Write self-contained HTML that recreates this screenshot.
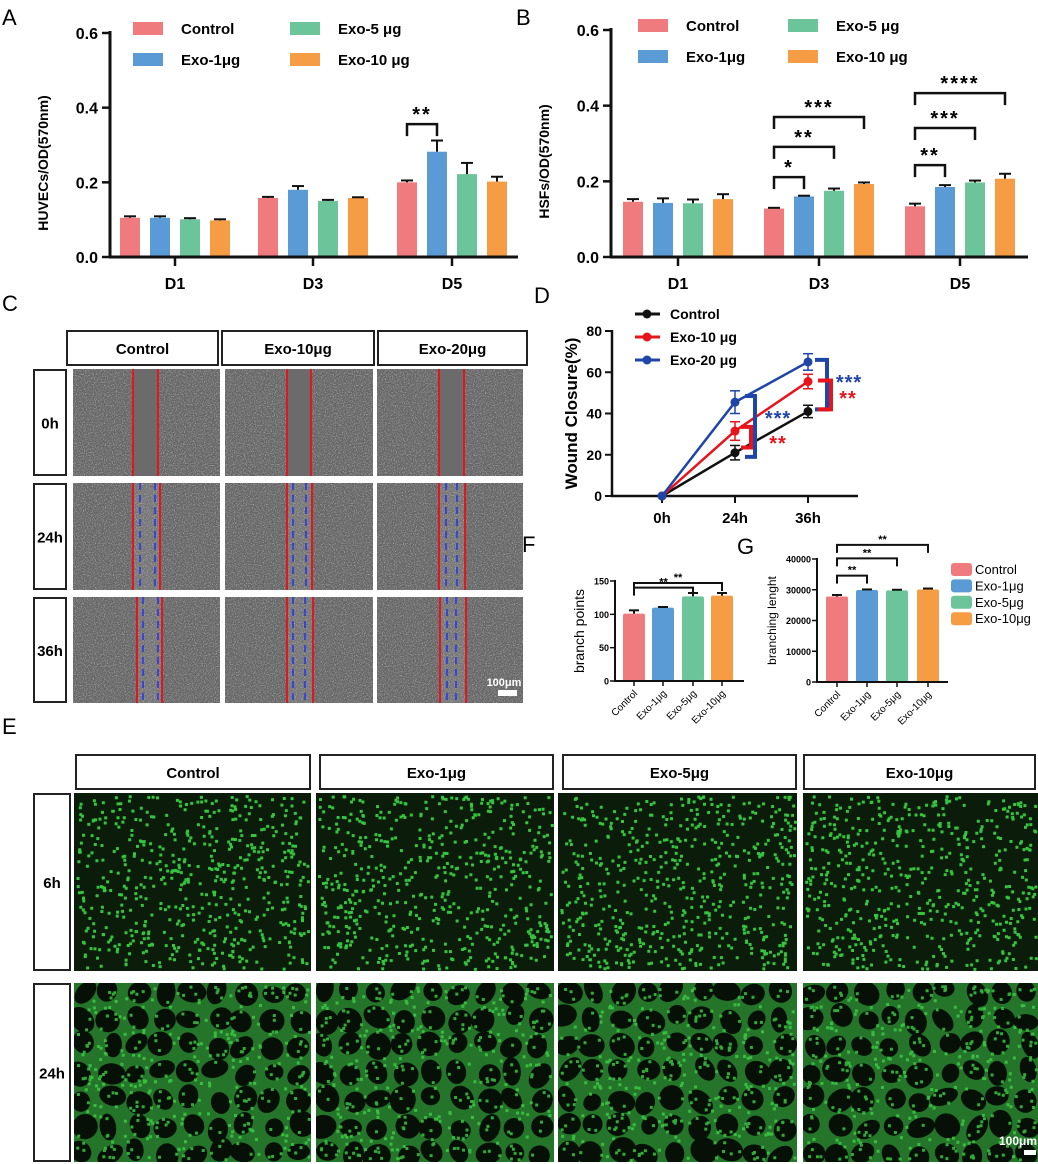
<!DOCTYPE html>
<html><head><meta charset="utf-8"><style>
html,body{margin:0;padding:0;background:#fff;}
svg{display:block;font-family:"Liberation Sans",Arial,sans-serif;}
.b{font-weight:bold;}
.n{font-family:"Liberation Sans Narrow","Liberation Sans",sans-serif;font-weight:bold;}
</style></head><body>
<svg id="fig" width="1038" height="1164" viewBox="0 0 1038 1164" xmlns="http://www.w3.org/2000/svg">
<defs id="defs">
<filter id="noise" x="0" y="0" width="100%" height="100%">
<feTurbulence type="fractalNoise" baseFrequency="0.9" numOctaves="2" seed="3"/>
<feColorMatrix type="matrix" values="0 0 0 0 1  0 0 0 0 1  0 0 0 0 1  0 0 0 2.2 -1.05"/>
</filter>
</defs>
<g id="panelA"></g>
<g id="panelB"></g>
<g id="panelC"></g>
<g id="panelD"></g>
<g id="panelF"></g>
<g id="panelG"></g>
<g id="panelE"></g>
</svg>
<script>
// ---------- data ----------
const abCats = ['D1','D3','D5'];
const groupNames = ['Control','Exo-1μg','Exo-5μg','Exo-10μg'];
const aControl = [0.105,0.158,0.200];
const aExo1 = [0.105,0.180,0.282];
const aExo5 = [0.101,0.150,0.222];
const aExo10 = [0.098,0.158,0.202];
const aErrControl = [0.004,0.003,0.005];
const aErrExo1 = [0.004,0.010,0.030];
const aErrExo5 = [0.003,0.003,0.030];
const aErrExo10 = [0.003,0.002,0.013];
const aTicks = [0.0,0.2,0.4,0.6];
const aSig = [[2,0,1,0.356,'**']];
const bControl = [0.146,0.128,0.134];
const bExo1 = [0.143,0.160,0.185];
const bExo5 = [0.142,0.175,0.197];
const bExo10 = [0.153,0.193,0.207];
const bErrControl = [0.007,0.002,0.007];
const bErrExo1 = [0.012,0.002,0.005];
const bErrExo5 = [0.010,0.006,0.005];
const bErrExo10 = [0.013,0.004,0.013];
const bTicks = [0.0,0.2,0.4,0.6];
const bSig = [[1,0,1,0.211,'*'],[1,0,2,0.291,'**'],[1,0,3,0.370,'***'],[2,0,1,0.243,'**'],[2,0,2,0.341,'***'],[2,0,3,0.433,'****']];
const dCats = ['0h','24h','36h'];
const dControl = [0,21,41];
const dExo10 = [0,31.5,55.5];
const dExo20 = [0,45.5,65];
const dErrControl = [0,3.5,3];
const dErrExo10 = [0,4.5,3.5];
const dErrExo20 = [0,5.5,4];
const dTicks = [0,20,40,60,80];
const fValues = [101,110,127,128];
const fErr = [5,1,5,4];
const fTicks = [0,50,100,150];
const fSig = [[0,2,140,'**'],[0,3,147,'**']];
const gValues = [27800,29900,29800,30100];
const gErr = [500,200,200,300];
const gTicks = [0,10000,20000,30000,40000];
const gSig = [[0,1,34600,'**'],[0,2,40200,'**'],[0,3,44600,'**']];

const COLORS = ['#f07b7e','#5b9bd5','#6cc49a','#f59c45'];
const NS = 'http://www.w3.org/2000/svg';
function mk(parent, tag, attrs, name, text){
  const el = document.createElementNS(NS, tag);
  for (const k in attrs) el.setAttribute(k, attrs[k]);
  
  
  if (text !== undefined) el.textContent = text;
  parent.appendChild(el);
  return el;
}
function line(p,x1,y1,x2,y2,sw,col,name){return mk(p,'line',{x1,y1,x2,y2,stroke:col||'#111','stroke-width':sw||2},name);}

// ---------- grouped bar charts A, B ----------
function groupedChart(gid, letter, lx, ax, y0, y6, xEnd, centers, series, errs, ticks, sig, ylabel, legX, legX2, legY) {
  const g = document.getElementById(gid);
  const ys = v => y0 - v/0.6*(y0-y6);
  mk(g,'text',{x:lx,y:25,'font-size':22},'panel-label',letter);
  centers.forEach((c,i)=>{
    series.forEach((s,j)=>{
      const cx = c + (j-1.5)*30;
      mk(g,'rect',{x:cx-10,y:ys(s[i]),width:20,height:y0-ys(s[i]),fill:COLORS[j]},'bar-'+abCats[i]+'-'+j);
      const ye = ys(s[i]+errs[j][i]);
      line(g,cx,ys(s[i]),cx,ye,2,'#111','error-bar');
      line(g,cx-6,ye,cx+6,ye,2,'#111','error-cap');
    });
    line(g,c,y0,c,y0+9,2.5,'#111','x-tick');
    mk(g,'text',{x:c,y:y0+32,'text-anchor':'middle','font-size':16,class:'b'},'x-tick-label',abCats[i]);
  });
  line(g,ax,y6-2,ax,y0+1,3,'#111','y-axis');
  line(g,ax-1,y0,xEnd,y0,3,'#111','x-axis');
  ticks.forEach(t=>{
    line(g,ax-8,ys(t),ax,ys(t),2.5,'#111','y-tick');
    mk(g,'text',{x:ax-12,y:ys(t)+6,'text-anchor':'end','font-size':16,class:'b'},'y-tick-label',t.toFixed(1));
  });
  mk(g,'text',{x:0,y:0,transform:`translate(${ax-62},${(y0+y6)/2+18}) rotate(-90)`,'text-anchor':'middle','font-size':14,class:'b'},'y-axis-title',ylabel);
  sig.forEach(s=>{
    const x1 = centers[s[0]]+(s[1]-1.5)*30, x2 = centers[s[0]]+(s[2]-1.5)*30, y = ys(s[3]);
    mk(g,'path',{d:`M${x1},${y+12}V${y}H${x2}V${y+12}`,fill:'none',stroke:'#111','stroke-width':2.5},'significance-bracket');
    mk(g,'text',{x:(x1+x2)/2,y:y-3,'text-anchor':'middle','font-size':20,class:'b','letter-spacing':2},'significance-stars',s[4]);
  });
  const legLabels = [['Control','Exo-5 μg'],['Exo-1μg','Exo-10 μg']];
  [[0,2],[1,3]].forEach((pair,r)=>{
    pair.forEach((j,cI)=>{
      const sx = cI? legX2 : legX;
      mk(g,'rect',{x:sx,y:legY+r*31-6,width:30,height:13,fill:COLORS[j]},'legend-swatch');
      mk(g,'text',{x:sx+48,y:legY+r*31+6,'font-size':15,class:'b'},'legend-entry',legLabels[r][cI]);
    });
  });
}
groupedChart('panelA','A',2,110,257,33,518,[175,313,452],[aControl,aExo1,aExo5,aExo10],[aErrControl,aErrExo1,aErrExo5,aErrExo10],aTicks,aSig,'HUVECs/OD(570nm)',133,290,28);
groupedChart('panelB','B',516,611,257,30,1028,[678,819,960],[bControl,bExo1,bExo5,bExo10],[bErrControl,bErrExo1,bErrExo5,bErrExo10],bTicks,bSig,'HSFs/OD(570nm)',638,788,25);

// ---------- panel C (scratch micrographs) ----------
(function(){
  const g = document.getElementById('panelC');
  mk(g,'text',{x:2,y:311,'font-size':22},'panel-label','C');
  const heads = [[67,218,'Control'],[222,374,'Exo-10μg'],[378,527,'Exo-20μg']];
  heads.forEach(h=>{
    mk(g,'rect',{x:h[0],y:331,width:h[1]-h[0],height:34,fill:'#fff',stroke:'#222','stroke-width':2},'column-header-box');
    mk(g,'text',{x:(h[0]+h[1])/2,y:354,'text-anchor':'middle','font-size':15,class:'n'},'column-header',h[2]);
  });
  const rows = [[369,476,'0h'],[483,590,'24h'],[597,703,'36h']];
  const cols = [[73,220],[225,373],[377,523]];
  const red = [[[133,158],[287,311],[439,464]],[[133,160],[287,312],[439,465]],[[137,162],[287,313],[440,466]]];
  const blue = [null,[[140,155],[293,306],[446,457]],[[143,158],[293,305],[447,456]]];
  rows.forEach((r,ri)=>{
    mk(g,'rect',{x:34,y:r[0]+1,width:32,height:r[1]-r[0]-2,fill:'#fff',stroke:'#222','stroke-width':2},'row-label-box');
    mk(g,'text',{x:50,y:(r[0]+r[1])/2+6,'text-anchor':'middle','font-size':15,class:'n'},'row-label',r[2]);
    cols.forEach((c,ci)=>{
      mk(g,'rect',{x:c[0],y:r[0],width:c[1]-c[0],height:r[1]-r[0],fill:'#666'},'micrograph');
      const rr = red[ri][ci];
      mk(g,'rect',{x:rr[0],y:r[0],width:rr[1]-rr[0],height:r[1]-r[0],fill: ri===0?'#666':'#747474'},'wound-gap');
      mk(g,'rect',{x:c[0],y:r[0],width:c[1]-c[0],height:r[1]-r[0],fill:'#fff',filter:'url(#noise)',opacity: 0.6},'cell-texture');
      if(ri===0) mk(g,'rect',{x:rr[0]+1,y:r[0],width:rr[1]-rr[0]-2,height:r[1]-r[0],fill:'#6b6b6b'},'wound-gap-clear');
      line(g,rr[0],r[0],rr[0],r[1],2,'#e8141c','wound-edge-initial');
      line(g,rr[1],r[0],rr[1],r[1],2,'#e8141c','wound-edge-initial');
      if(blue[ri]){
        const bb = blue[ri][ci];
        mk(g,'line',{x1:bb[0],y1:r[0],x2:bb[0],y2:r[1],stroke:'#2233ee','stroke-width':1.5,'stroke-dasharray':'7,5'},'wound-edge-current');
        mk(g,'line',{x1:bb[1],y1:r[0],x2:bb[1],y2:r[1],stroke:'#2233ee','stroke-width':1.5,'stroke-dasharray':'7,5'},'wound-edge-current');
      }
    });
  });
  mk(g,'text',{x:504,y:686,'text-anchor':'middle','font-size':11,fill:'#fff',class:'n'},'scale-bar-label','100μm');
  mk(g,'rect',{x:498,y:690,width:19,height:6,fill:'#fff'},'scale-bar');
})();

// ---------- panel D (line chart) ----------
(function(){
  const g = document.getElementById('panelD');
  const ax=612, y0=496, y80=331;
  const xs = i => [662,735,808][i];
  const ys = v => y0 - v/80*(y0-y80);
  mk(g,'text',{x:534,y:303,'font-size':22},'panel-label','D');
  line(g,ax,y80-1,ax,y0+1,2.5,'#111','y-axis');
  line(g,ax-1,y0,858,y0,2.5,'#111','x-axis');
  dTicks.forEach(t=>{
    line(g,ax-7,ys(t),ax,ys(t),2,'#111','y-tick');
    mk(g,'text',{x:ax-10,y:ys(t)+5,'text-anchor':'end','font-size':14,class:'b'},'y-tick-label',t);
  });
  dCats.forEach((c,i)=>{
    line(g,xs(i),y0,xs(i),y0+7,2,'#111','x-tick');
    mk(g,'text',{x:xs(i),y:y0+27,'text-anchor':'middle','font-size':15,class:'b'},'x-tick-label',c);
  });
  mk(g,'text',{x:0,y:0,transform:`translate(577,${(y0+y80)/2}) rotate(-90)`,'text-anchor':'middle','font-size':17,class:'b'},'y-axis-title','Wound Closure(%)');
  const series = [[dControl,dErrControl,'#111','Control'],[dExo10,dErrExo10,'#e8141c','Exo-10 μg'],[dExo20,dErrExo20,'#1f45a8','Exo-20 μg']];
  series.forEach((s,si)=>{
    const pts = s[0].map((v,i)=>xs(i)+','+ys(v)).join(' ');
    mk(g,'polyline',{points:pts,fill:'none',stroke:s[2],'stroke-width':2.5},'series-line-'+si);
    s[0].forEach((v,i)=>{
      if(s[1][i]>0){
        const t=ys(v+s[1][i]), b=ys(v-s[1][i]);
        line(g,xs(i),t,xs(i),b,1.5,s[2],'error-bar');
        line(g,xs(i)-5,t,xs(i)+5,t,1.5,s[2],'error-cap');
        line(g,xs(i)-5,b,xs(i)+5,b,1.5,s[2],'error-cap');
      }
      mk(g,'circle',{cx:xs(i),cy:ys(v),r:4.5,fill:s[2]},'data-point');
    });
    const ly = 314+si*23;
    line(g,635,ly,660,ly,3,s[2],'legend-line');
    mk(g,'circle',{cx:647,cy:ly,r:4.5,fill:s[2]},'legend-marker');
    mk(g,'text',{x:670,y:ly+5,'font-size':14,class:'b'},'legend-entry',s[3]);
  });
  function br(xb, v1, v2, col, len, name){
    mk(g,'path',{d:`M${xb-len},${ys(v1)}H${xb}V${ys(v2)}H${xb-len}`,fill:'none',stroke:col,'stroke-width':4},name);
  }
  br(755, dExo20[1]+3, dControl[1]-2, '#1f45a8', 10, 'bracket-24h-exo20');
  br(751, dExo10[1]+2, dControl[1]+2.5, '#e8141c', 10, 'bracket-24h-exo10');
  br(827, dExo20[2]+1, dControl[2]+1, '#1f45a8', 12, 'bracket-36h-exo20');
  br(831, dExo10[2]+0.5, dControl[2]+1, '#e8141c', 13, 'bracket-36h-exo10');
  mk(g,'text',{x:778,y:425,'text-anchor':'middle','font-size':20,fill:'#1f45a8',class:'b','letter-spacing':1},'significance-stars','***');
  mk(g,'text',{x:778,y:450,'text-anchor':'middle','font-size':20,fill:'#e8141c',class:'b','letter-spacing':1},'significance-stars','**');
  mk(g,'text',{x:849,y:389,'text-anchor':'middle','font-size':20,fill:'#1f45a8',class:'b','letter-spacing':1},'significance-stars','***');
  mk(g,'text',{x:848,y:405,'text-anchor':'middle','font-size':20,fill:'#e8141c',class:'b','letter-spacing':1},'significance-stars','**');
})();

// ---------- panels F, G ----------
function simpleBars(gid, letter, lx, ly, ax, y0, yTop, maxV, centers, xEnd, vals, errs, ticks, sig, ylabel, ylx, ylfs){
  const g = document.getElementById(gid);
  const ys = v => y0 - v/maxV*(y0-yTop);
  mk(g,'text',{x:lx,y:ly,'font-size':22},'panel-label',letter);
  vals.forEach((v,i)=>{
    const c = centers[i];
    mk(g,'rect',{x:c-11,y:ys(v),width:22,height:y0-ys(v),fill:COLORS[i],rx:2},'bar-'+groupNames[i]);
    const t = ys(v+errs[i]);
    line(g,c,ys(v),c,t,2,'#111','error-bar');
    line(g,c-5,t,c+5,t,2,'#111','error-cap');
    line(g,c,y0,c,y0+5,1.5,'#111','x-tick');
    mk(g,'text',{x:0,y:0,transform:`translate(${c+4},${y0+13}) rotate(-45)`,'text-anchor':'end','font-size':10},'x-tick-label',groupNames[i]);
  });
  line(g,ax,yTop-1,ax,y0+1,2,'#111','y-axis');
  line(g,ax-1,y0,xEnd,y0,2,'#111','x-axis');
  ticks.forEach(t=>{
    line(g,ax-5,ys(t),ax,ys(t),1.5,'#111','y-tick');
    mk(g,'text',{x:ax-6,y:ys(t)+3.5,'text-anchor':'end','font-size':9,class:'b'},'y-tick-label',t);
  });
  mk(g,'text',{x:0,y:0,transform:`translate(${ylx},${(y0+yTop)/2}) rotate(-90)`,'text-anchor':'middle','font-size':ylfs},'y-axis-title',ylabel);
  sig.forEach(s=>{
    const x1=centers[s[0]], x2=centers[s[1]], y=ys(s[2]);
    mk(g,'path',{d:`M${x1},${y+8}V${y}H${x2}V${y+8}`,fill:'none',stroke:'#111','stroke-width':2},'significance-bracket');
    mk(g,'text',{x:(x1+x2)/2,y:y-2,'text-anchor':'middle','font-size':11,class:'b'},'significance-stars',s[3]);
  });
}
simpleBars('panelF','F',522,552,615,681,581,150,[634,663,693,722],744,fValues,fErr,fTicks,fSig,'branch points',584,14);
simpleBars('panelG','G',737,554,817,682,559,40000,[837,867,897,928],948,gValues,gErr,gTicks,gSig,'branching lenght',776,12);
(function(){
  const g = document.getElementById('panelG');
  groupNames.forEach((n,i)=>{
    const y = 569 + i*16.4;
    mk(g,'rect',{x:951,y:y-6,width:21,height:13,rx:3,fill:COLORS[i]},'legend-swatch');
    mk(g,'text',{x:975,y:y+5,'font-size':13},'legend-entry',n);
  });
})();

// ---------- panel E (tube formation micrographs) ----------
(function(){
  const g = document.getElementById('panelE');
  const defs = document.getElementById('defs');
  mk(g,'text',{x:2,y:734,'font-size':22},'panel-label','E');
  const cols = [[75,311,'Control'],[319,554,'Exo-1μg'],[562,797,'Exo-5μg'],[803,1036,'Exo-10μg']];
  cols.forEach(c=>{
    mk(g,'rect',{x:c[0]+1,y:755,width:c[1]-c[0]-2,height:34,fill:'#fff',stroke:'#222','stroke-width':2},'column-header-box');
    mk(g,'text',{x:(c[0]+c[1])/2,y:778,'text-anchor':'middle','font-size':15,class:'n'},'column-header',c[2]);
  });
  const imgX = [[74,311],[316,554],[558,797],[803,1038]];
  const rows = [[793,971,'6h'],[983,1162,'24h']];
  let seed = 12345;
  const rnd = () => (seed = (seed*1103515245+12345) & 0x7fffffff) / 0x7fffffff;
  let cid = 0;
  rows.forEach((r,ri)=>{
    mk(g,'rect',{x:34,y:r[0]+1,width:36,height:r[1]-r[0]-2,fill:'#fff',stroke:'#222','stroke-width':2},'row-label-box');
    mk(g,'text',{x:52,y:(r[0]+r[1])/2+6,'text-anchor':'middle','font-size':15,class:'n'},'row-label',r[2]);
    imgX.forEach(c=>{
      const w=c[1]-c[0], h=r[1]-r[0];
      const cp = mk(defs,'clipPath',{id:'clip'+cid},'image-clip');
      mk(cp,'rect',{x:c[0],y:r[0],width:w,height:h},'image-clip-rect');
      const gi = mk(g,'g',{'clip-path':`url(#clip${cid})`},'fluorescence-image');
      cid++;
      mk(gi,'rect',{x:c[0],y:r[0],width:w,height:h,fill: ri? '#24752a':'#0b1c0b'},'image-background');
      if(ri){
        const cs=27;
        for(let yy=r[0]-5; yy<r[1]; yy+=cs) for(let xx=c[0]-5; xx<c[1]; xx+=cs){
          const cx = xx+cs/2+(rnd()-0.5)*8, cy = yy+cs/2+(rnd()-0.5)*8;
          const rx = cs*(0.34+0.2*rnd()), ry = cs*(0.3+0.18*rnd());
          mk(gi,'ellipse',{cx:cx.toFixed(1),cy:cy.toFixed(1),rx:rx.toFixed(1),ry:ry.toFixed(1),fill:'#061006',transform:`rotate(${(rnd()*180).toFixed(0)} ${cx.toFixed(1)} ${cy.toFixed(1)})`},'lumen');
        }
      }
      const n = ri? 380 : 560;
      let d='';
      for(let k=0;k<n;k++){
        const x=c[0]+2+rnd()*(w-5), y=r[0]+2+rnd()*(h-5);
        d += `M${x.toFixed(1)},${y.toFixed(1)}h3v3h-3z`;
      }
      mk(gi,'path',{d,fill:ri?'#3fcf46':'#36c43e',opacity:ri?0.8:1},'cells');
    });
  });
  mk(g,'text',{x:1018,y:1145,'text-anchor':'middle','font-size':12,fill:'#fff',class:'n'},'scale-bar-label','100μm');
  mk(g,'rect',{x:1024,y:1150,width:12,height:5,fill:'#fff'},'scale-bar');
})();
</script>
</body></html>
